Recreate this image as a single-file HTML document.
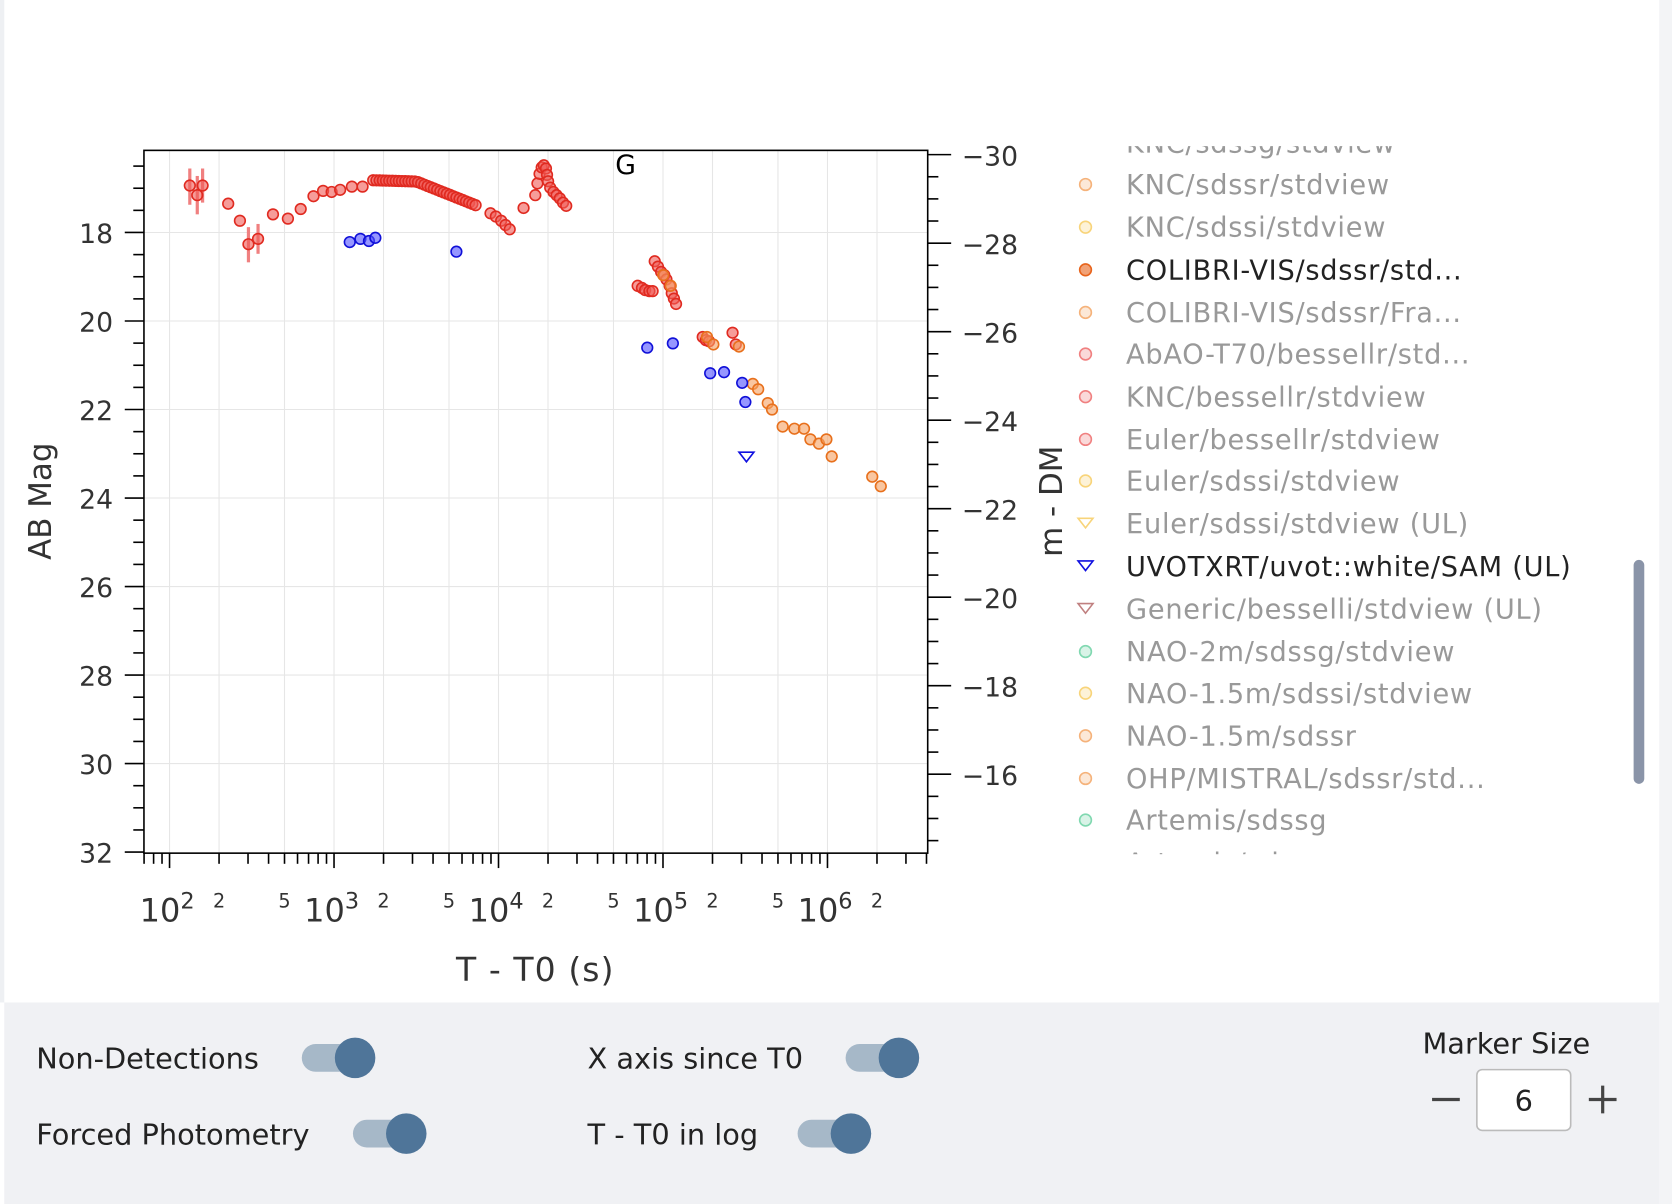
<!DOCTYPE html>
<html><head><meta charset="utf-8">
<style>
html,body{margin:0;padding:0;background:#fff;}
svg{display:block;}
text{font-family:"DejaVu Sans","Liberation Sans",sans-serif;}
</style></head>
<body>
<svg id="s" width="1672" height="1204" viewBox="0 0 1568 1129" preserveAspectRatio="none" xmlns="http://www.w3.org/2000/svg">
<rect x="0" y="0" width="1568" height="1129" fill="#fff"/>
<rect x="0" y="0" width="4" height="940" fill="#eef0f3"/>
<rect x="1556" y="0" width="12" height="1129" fill="#f3f4f6"/>
<g id="grid" stroke="#e6e6e6" stroke-width="1"></g>
<g id="axes" stroke="#000" stroke-width="1.5" fill="none"></g>
<g id="labels" font-size="25" fill="#333"></g>
<g id="pts"></g>
<text x="577" y="163" font-size="25" fill="#000">G</text>
<text x="48" y="470" font-size="29" fill="#333" text-anchor="middle" transform="rotate(-90 48 470)">AB Mag</text>
<text x="996" y="470" font-size="29" fill="#333" text-anchor="middle" transform="rotate(-90 996 470)">m - DM</text>
<text x="502" y="920" font-size="31" fill="#333" text-anchor="middle" letter-spacing="1">T - T0 (s)</text>
<g id="legend" font-size="25.5" letter-spacing="0.7"></g>
<rect x="1532" y="525" width="10" height="210" rx="5" fill="#8a94a8"/>
<rect x="4" y="940" width="1552" height="189" fill="#f0f1f4"/>
<g font-size="27" fill="#222">
<text x="34" y="1002">Non-Detections</text>
<text x="34" y="1073">Forced Photometry</text>
<text x="551" y="1002">X axis since T0</text>
<text x="551" y="1073">T - T0 in log</text>
<text x="1334" y="988">Marker Size</text>
</g>
<g id="tog"></g>
<line x1="1343" y1="1031" x2="1369" y2="1031" stroke="#444" stroke-width="3"/>
<line x1="1490" y1="1031" x2="1516" y2="1031" stroke="#444" stroke-width="3"/>
<line x1="1503" y1="1018" x2="1503" y2="1044" stroke="#444" stroke-width="3"/>
<rect x="1385" y="1003" width="88" height="57" rx="5" fill="#fff" stroke="#bbb" stroke-width="1.5"/>
<text x="1429" y="1042" font-size="27" text-anchor="middle" fill="#222">6</text>
</svg>
<script>
const NS="http://www.w3.org/2000/svg";
function el(p,t,a,txt){const e=document.createElementNS(NS,t);for(const k in a)e.setAttribute(k,a[k]);if(txt!==undefined)e.textContent=txt;document.getElementById(p).appendChild(e);return e;}
const L=135,R=870,T=141,B=800;
const X=t=>159+154.25*(Math.log10(t)-2);
const Y=m=>218+41.5*(m-18);
for(let d=2;d<=6;d++){for(const k of [1,2,5]){const x=X(k*Math.pow(10,d));if(x>L&&x<R)el('grid','line',{x1:x,y1:T,x2:x,y2:B});}}
for(let m=18;m<=30;m+=2)el('grid','line',{x1:L,y1:Y(m),x2:R,y2:Y(m)});
el('axes','rect',{x:L,y:T,width:R-L,height:B-T});
for(let d=1;d<=6;d++)for(let k=1;k<=9;k++){const x=X(k*Math.pow(10,d));if(x<L||x>R)continue;el('axes','line',{x1:x,y1:B,x2:x,y2:B+(k==1?14:10)});}
for(let d=2;d<=6;d++){const x=X(Math.pow(10,d));
 const g=el('labels','text',{x:x-28,y:864,'font-size':30});g.innerHTML='10<tspan dy="-12" font-size="21">'+d+'</tspan>';
 el('labels','text',{x:X(2*Math.pow(10,d)),y:851,'font-size':18,'text-anchor':'middle'},'2');
 if(d>2)el('labels','text',{x:X(5*Math.pow(10,d-1)),y:851,'font-size':18,'text-anchor':'middle'},'5');}
for(let m=16.5;m<=32.01;m+=0.5){const y=Y(m);if(y<T-1)continue;const maj=(m%2==0);el('axes','line',{x1:L,y1:y,x2:L-(maj?18:10),y2:y});}
for(let m=18;m<=32;m+=2)el('labels','text',{x:106,y:Y(m)+10,'text-anchor':'end'},m);
for(let v=-30;v<=-14.5;v+=0.5){const y=145+41.5*(v+30);if(y>B)break;const maj=(v%2==0);el('axes','line',{x1:R,y1:y,x2:R+(maj?22:10),y2:y});}
for(let v=-30;v<=-16;v+=2)el('labels','text',{x:902,y:145+41.5*(v+30)+10},'\u2212'+(-v));
function dot(x,y,c,f){el('pts','circle',{cx:x,cy:y,r:5,fill:f,'fill-opacity':0.6,stroke:c,'stroke-width':1.5});}
[[178,158,192],[185,165,201],[190,158,190],[233,213,246],[242,210,238]].forEach(a=>el('pts','line',{x1:a[0],y1:a[1],x2:a[0],y2:a[2],stroke:'#f08080','stroke-width':3}));
const red=[[178,174],[185,183],[190,174],[214,191],[225,207],[233,229],[242,224],[256,201],[270,205],[282,196],[294,184],[303,179],[311,180],[319,178],[330,175],[340,175]];
for(let x=350;x<=448;x+=3){let y;if(x<390)y=169+(x-350)*0.03;else y=170+(x-390)*0.4;red.push([x,y]);}
[[460,200],[465,203],[470,207],[474,211],[478,215],[491,195],[502,183],[504,172],[506,163],[508,157],[510,155],[512,158],[513,164],[514,170],[516,176],[519,180],[522,183],[525,186],[528,190],[531,193],[598,268],[602,270],[605,272],[609,273],[612,273],[614,245],[617,250],[620,255],[623,258],[625,262],[628,268],[630,275],[632,280],[634,285],[659,316],[662,319],[665,320],[687,312],[690,323]].forEach(p=>red.push(p));
red.forEach(p=>dot(p[0],p[1],'#e02a20','#f05a55'));
[[663,316],[669,323],[693,325],[706,360],[711,365],[720,378],[724,384],[734,400],[745,402],[754,402],[760,412],[768,416],[775,412],[780,428],[818,447],[826,456],[622,258],[629,268]].forEach(p=>dot(p[0],p[1],'#e8701c','#f5a060'));
[[328,227],[338,224],[346,226],[352,223],[428,236],[607,326],[631,322],[666,350],[679,349],[696,359],[699,377]].forEach(p=>dot(p[0],p[1],'#1010d8','#5050ff'));
el('pts','path',{d:'M693,424 L707,424 L700,433 Z',fill:'none',stroke:'#1010e0','stroke-width':1.5});
const leg=[["KNC/sdssg/stdview",134,"#f5b27a",0],["KNC/sdssr/stdview",173,"#f5b27a",0],["KNC/sdssi/stdview",213,"#f8d47a",0],["COLIBRI-VIS/sdssr/std...",253,"#e8641c",1],["COLIBRI-VIS/sdssr/Fra...",293,"#f5b27a",0],["AbAO-T70/bessellr/std...",332,"#f08080",0],["KNC/bessellr/stdview",372,"#f08080",0],["Euler/bessellr/stdview",412,"#f08080",0],["Euler/sdssi/stdview",451,"#f8d47a",0],["Euler/sdssi/stdview (UL)",491,"#f8d47a",2],["UVOTXRT/uvot::white/SAM (UL)",531,"#1010e0",3],["Generic/besselli/stdview (UL)",571,"#c08080",2],["NAO-2m/sdssg/stdview",611,"#80d8b0",0],["NAO-1.5m/sdssi/stdview",650,"#f8d47a",0],["NAO-1.5m/sdssr",690,"#f5b27a",0],["OHP/MISTRAL/sdssr/std...",730,"#f5b27a",0],["Artemis/sdssg",769,"#80d8b0",0],["Artemis/sdssr",809,"#f5b27a",0]];
leg.forEach(l=>{const y=l[1];const dark=(l[3]==1||l[3]==3);
 if(y>140&&y<800){if(l[3]>=2)el('legend','path',{d:`M${1011},${y-5} L${1025},${y-5} L${1018},${y+4} Z`,fill:'none',stroke:l[2],'stroke-width':1.5});
 else el('legend','circle',{cx:1018,cy:y,r:5.5,fill:l[2],'fill-opacity':dark?0.6:0.3,stroke:l[2],'stroke-width':1.5});}
 el('legend','text',{x:1056,y:y+9,fill:dark?'#222':'#999'},l[0]);});
el('legend','rect',{x:1040,y:100,width:460,height:37,fill:'#fff'});
el('legend','rect',{x:1040,y:801,width:460,height:30,fill:'#fff'});
[[283,992],[331,1063],[793,992],[748,1063]].forEach(t=>{el('tog','rect',{x:t[0],y:t[1]-13,width:66,height:26,rx:13,fill:'#a6b8c8'});el('tog','circle',{cx:t[0]+50,cy:t[1],r:19,fill:'#4f7599'});});
</script>
</body></html>
